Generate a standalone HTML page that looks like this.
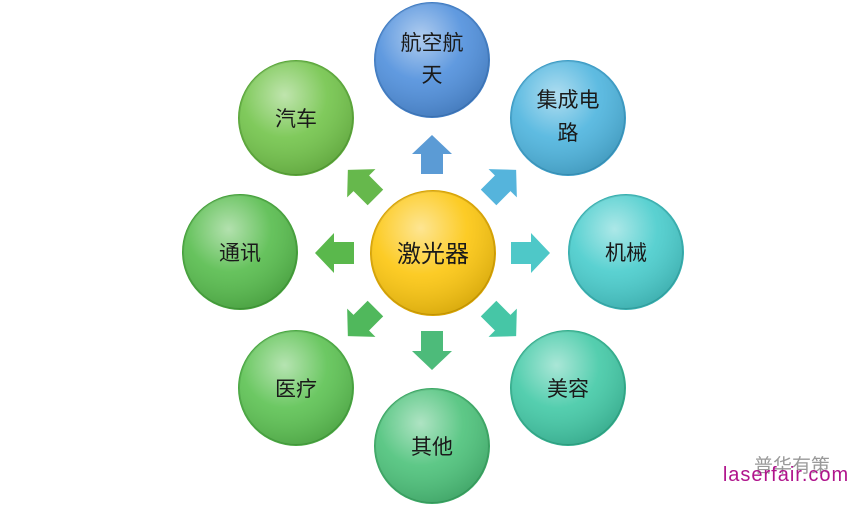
<!DOCTYPE html>
<html><head><meta charset="utf-8"><style>
html,body{margin:0;padding:0;background:#fff;}
svg text{font-family:"Liberation Sans","Noto Sans CJK SC",sans-serif;fill:#1a1a1a;text-anchor:middle;}
</style></head><body>
<svg width="865" height="506" viewBox="0 0 865 506" xmlns="http://www.w3.org/2000/svg">
<defs>
<radialGradient id="g" cx="40%" cy="30%" r="75%">
<stop offset="0" stop-color="#fff" stop-opacity="0.55"/>
<stop offset="0.5" stop-color="#fff" stop-opacity="0.1"/>
<stop offset="1" stop-color="#000" stop-opacity="0.15"/>
</radialGradient>
<polygon id="ar" points="-19,-11 1,-11 1,-20 20,0 1,20 1,11 -19,11"/>
</defs>
<use href="#ar" fill="#5b9bd5" transform="translate(432,155) rotate(-90)"/>
<use href="#ar" fill="#55b4dc" transform="translate(502,184) rotate(-45)"/>
<use href="#ar" fill="#4ec8c8" transform="translate(530,253)"/>
<use href="#ar" fill="#46c6a6" transform="translate(502,322) rotate(45)"/>
<use href="#ar" fill="#4dbb7a" transform="translate(432,350) rotate(90)"/>
<use href="#ar" fill="#50b85c" transform="translate(362,322) rotate(135)"/>
<use href="#ar" fill="#5ab84c" transform="translate(335,253) rotate(180)"/>
<use href="#ar" fill="#66b84c" transform="translate(362,184) rotate(-135)"/>
<g stroke-width="2">
<circle cx="432" cy="60" r="57" fill="#4f8fdc" stroke="#3f7cc4"/>
<circle cx="568" cy="118" r="57" fill="#4db4de" stroke="#3a9cc6"/>
<circle cx="626" cy="252" r="57" fill="#48cccc" stroke="#35b0b0"/>
<circle cx="568" cy="388" r="57" fill="#42c9a6" stroke="#30ae8c"/>
<circle cx="432" cy="446" r="57" fill="#4cc27a" stroke="#3aa864"/>
<circle cx="296" cy="388" r="57" fill="#5cc252" stroke="#48a840"/>
<circle cx="240" cy="252" r="57" fill="#56bc4c" stroke="#44a23a"/>
<circle cx="296" cy="118" r="57" fill="#72c44a" stroke="#5aa838"/>
<circle cx="433" cy="253" r="62" fill="#fcc60e" stroke="#d9a400"/>
</g>
<g fill="url(#g)">
<circle cx="432" cy="60" r="57"/><circle cx="568" cy="118" r="57"/>
<circle cx="626" cy="252" r="57"/><circle cx="568" cy="388" r="57"/>
<circle cx="432" cy="446" r="57"/><circle cx="296" cy="388" r="57"/>
<circle cx="240" cy="252" r="57"/><circle cx="296" cy="118" r="57"/>
<circle cx="433" cy="253" r="62"/>
</g>
<g font-size="21">
<text x="432" y="50">航空航</text><text x="432" y="82">天</text>
<text x="568" y="107">集成电</text><text x="568" y="140">路</text>
<text x="626" y="260">机械</text>
<text x="568" y="396">美容</text>
<text x="432" y="454">其他</text>
<text x="296" y="396">医疗</text>
<text x="240" y="260">通讯</text>
<text x="296" y="126">汽车</text>
<text x="433" y="262" font-size="24">激光器</text>
</g>
<text x="792" y="472" font-size="19" style="fill:#999">普华有策</text>
<text x="786" y="481" font-size="20" style="fill:#b0148c;letter-spacing:1px">laserfair.com</text>
</svg>
</body></html>
